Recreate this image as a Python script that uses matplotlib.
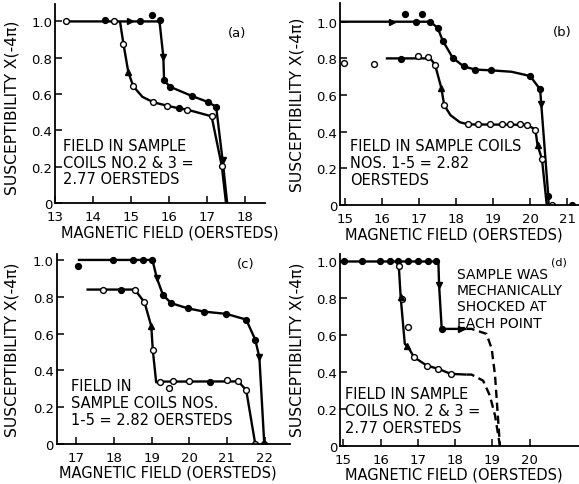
import matplotlib
matplotlib.use("Agg")
import matplotlib.pyplot as plt

# ---- panel (a) ----
a_upper_x = [13.3, 15.75, 15.85, 15.87, 16.03, 16.6, 17.03, 17.24, 17.41, 17.53]
a_upper_y = [1.0, 1.0, 0.805, 0.675, 0.64, 0.59, 0.556, 0.53, 0.235, 0.0]
a_lower_x = [14.71, 14.8, 14.93, 15.06, 15.3, 15.59, 15.94, 16.25, 16.47, 17.12, 17.39, 17.5]
a_lower_y = [1.0, 0.877, 0.72, 0.643, 0.585, 0.555, 0.537, 0.522, 0.515, 0.478, 0.202, 0.0]
a_fill_x = [14.32, 15.24, 15.54, 15.75, 15.87, 16.03, 16.6, 17.03, 17.24, 16.25]
a_fill_y = [1.01, 1.0, 1.033, 1.01, 0.675, 0.64, 0.59, 0.556, 0.53, 0.522]
a_open_x = [13.29, 14.54, 14.8, 15.06, 15.59, 15.94, 16.47, 17.12, 17.39]
a_open_y = [1.0, 1.0, 0.877, 0.643, 0.555, 0.537, 0.515, 0.478, 0.202]
a_right = ([14.97], [1.0])
a_down = ([15.85, 17.41], [0.805, 0.235])
a_up = ([14.93], [0.72])

# ---- panel (b) ----
b_upper_x = [14.86, 17.3, 17.5, 17.64, 17.91, 18.2, 18.51, 18.94, 19.5, 20.0, 20.27, 20.49, 20.5]
b_upper_y = [1.0, 1.0, 0.967, 0.896, 0.803, 0.757, 0.739, 0.735, 0.727, 0.704, 0.631, 0.05, 0.0]
b_lower_x = [16.1, 17.3, 17.43, 17.6, 17.68, 17.85, 18.1, 18.33, 19.91, 20.14, 20.2, 20.32, 20.45]
b_lower_y = [0.8, 0.8, 0.766, 0.639, 0.544, 0.49, 0.452, 0.44, 0.438, 0.412, 0.328, 0.25, 0.0]
b_fill_x = [16.62, 16.92, 17.07, 17.3, 17.5, 17.64, 17.91, 18.2, 18.51, 18.94, 20.0, 20.27, 20.49, 21.13, 16.5]
b_fill_y = [1.04, 1.0, 1.04, 1.0, 0.967, 0.896, 0.803, 0.757, 0.739, 0.735, 0.704, 0.631, 0.05, 0.0, 0.794]
b_open_x = [14.97, 15.77, 16.98, 17.25, 17.43, 17.68, 18.33, 18.6, 18.92, 19.24, 19.46, 19.73, 19.91, 20.14, 20.32, 20.59]
b_open_y = [0.775, 0.768, 0.814, 0.808, 0.766, 0.544, 0.44, 0.44, 0.44, 0.44, 0.44, 0.44, 0.438, 0.412, 0.25, 0.0]
b_right = ([16.26], [1.0])
b_down = ([20.29], [0.55])
b_up = ([17.6, 20.2], [0.639, 0.328])

# ---- panel (c) ----
c_upper_x = [17.04, 19.02, 19.14, 19.3, 19.52, 19.96, 20.4, 20.98, 21.51, 21.75, 21.86, 21.99]
c_upper_y = [1.0, 1.0, 0.9, 0.81, 0.765, 0.737, 0.719, 0.707, 0.676, 0.567, 0.471, 0.0]
c_lower_x = [17.27, 18.55, 18.81, 18.99, 19.03, 19.12, 19.23, 21.3, 21.51, 21.75]
c_lower_y = [0.839, 0.839, 0.77, 0.64, 0.511, 0.335, 0.339, 0.34, 0.293, 0.0]
c_fill_x = [17.04, 17.97, 18.5, 18.77, 19.02, 19.3, 19.52, 19.96, 20.4, 20.98, 21.51, 21.75, 21.99, 18.18, 20.54]
c_fill_y = [0.966, 1.0, 1.0, 1.0, 1.0, 0.81, 0.765, 0.737, 0.719, 0.707, 0.676, 0.567, 0.0, 0.839, 0.339]
c_open_x = [17.71, 18.55, 18.81, 19.03, 19.23, 19.45, 19.58, 20.0, 21.0, 21.3, 21.51, 21.75]
c_open_y = [0.839, 0.839, 0.77, 0.511, 0.339, 0.304, 0.34, 0.34, 0.345, 0.34, 0.293, 0.0]
c_right = ([], [])
c_down = ([19.14, 21.86], [0.9, 0.471])
c_up = ([18.99], [0.64])

# ---- panel (d) ----
d_upper_x = [14.91, 17.55, 17.57, 17.64, 18.3]
d_upper_y = [1.0, 1.0, 0.87, 0.634, 0.634]
d_upper_dash_x = [18.3, 18.44, 18.84, 18.98, 19.07, 19.2]
d_upper_dash_y = [0.634, 0.634, 0.607, 0.526, 0.38, 0.0]
d_lower_x = [16.45, 16.49, 16.54, 16.65, 16.74, 16.9, 17.24, 17.55, 17.88, 18.3]
d_lower_y = [1.0, 0.975, 0.806, 0.553, 0.535, 0.48, 0.435, 0.417, 0.39, 0.386]
d_lower_dash_x = [18.3, 18.44, 18.75, 18.93, 19.07, 19.2]
d_lower_dash_y = [0.386, 0.386, 0.353, 0.272, 0.163, 0.0]
d_fill_x = [15.02, 15.49, 15.98, 16.25, 16.47, 16.74, 17.01, 17.26, 17.5, 17.66]
d_fill_y = [1.0, 1.0, 1.0, 1.0, 1.0, 1.0, 1.0, 1.0, 1.0, 0.634]
d_open_x = [16.49, 16.57, 16.74, 16.9, 17.24, 17.55, 17.88]
d_open_y = [0.975, 0.797, 0.643, 0.48, 0.435, 0.417, 0.39]
d_right = ([18.15], [0.634])
d_down = ([17.57], [0.87])
d_up = ([16.54, 16.72], [0.806, 0.54])

y_ticks = [0, 0.2, 0.4, 0.6, 0.8, 1.0]
y_labels = ["0", "0.2", "0.4", "0.6", "0.8", "1.0"]

FS = 10.5
LW = 1.7


def draw_panel(ax, lines, dashes, fill, open_, right, down, up, xlim, ylim, xticks):
	for lx, ly in lines:
		ax.plot(lx, ly, color='black', lw=LW, solid_capstyle='butt')
	for lx, ly in dashes:
		ax.plot(lx, ly, color='black', lw=LW, ls=(0, (3.5, 2)))
	ax.plot(fill[0], fill[1], 'o', color='black', ms=4.2, ls='none')
	ax.plot(open_[0], open_[1], 'o', mfc='white', mec='black', mew=1.0, ms=4.2, ls='none')
	ax.plot(right[0], right[1], '>', color='black', ms=5, ls='none')
	ax.plot(down[0], down[1], 'v', color='black', ms=5, ls='none')
	ax.plot(up[0], up[1], '^', color='black', ms=5, ls='none')
	ax.set_xlim(*xlim)
	ax.set_ylim(*ylim)
	ax.set_xticks(xticks)
	ax.set_xticklabels([str(t) for t in xticks])
	ax.set_yticks(y_ticks)
	ax.set_yticklabels(y_labels)
	ax.spines['top'].set_visible(False)
	ax.spines['right'].set_visible(False)
	ax.spines['left'].set_linewidth(1.3)
	ax.spines['bottom'].set_linewidth(1.3)
	ax.tick_params(axis='both', direction='in', length=5, width=1.1, labelsize=9.5)
	ax.tick_params(axis='x', pad=5)
	ax.tick_params(axis='y', pad=2)
	ax.set_xlabel("MAGNETIC FIELD (OERSTEDS)", fontsize=FS, va='top')
	ax.set_ylabel("SUSCEPTIBILITY X(-4π)", fontsize=11.2)
	for lab in ax.get_xticklabels() + ax.get_yticklabels():
		lab.set_clip_on(False)


fig = plt.figure(figsize=(5.79, 4.85), dpi=100)
ax_a = fig.add_axes([0.095, 0.579, 0.363, 0.41])
ax_b = fig.add_axes([0.587, 0.575, 0.413, 0.416])
ax_c = fig.add_axes([0.098, 0.0825, 0.402, 0.392])
ax_d = fig.add_axes([0.587, 0.079, 0.413, 0.395])

draw_panel(ax_a, [(a_upper_x, a_upper_y), (a_lower_x, a_lower_y)], [],
	(a_fill_x, a_fill_y), (a_open_x, a_open_y), a_right, a_down, a_up,
	(13, 18.53), (0, 1.094), [13, 14, 15, 16, 17, 18])
draw_panel(ax_b, [(b_upper_x, b_upper_y), (b_lower_x, b_lower_y)], [],
	(b_fill_x, b_fill_y), (b_open_x, b_open_y), b_right, b_down, b_up,
	(14.86, 21.32), (0, 1.10), [15, 16, 17, 18, 19, 20, 21])
draw_panel(ax_c, [(c_upper_x, c_upper_y), (c_lower_x, c_lower_y)], [],
	(c_fill_x, c_fill_y), (c_open_x, c_open_y), c_right, c_down, c_up,
	(16.48, 22.66), (0, 1.033), [17, 18, 19, 20, 21, 22])
draw_panel(ax_d, [(d_upper_x, d_upper_y), (d_lower_x, d_lower_y)],
	[(d_upper_dash_x, d_upper_dash_y), (d_lower_dash_x, d_lower_dash_y)],
	(d_fill_x, d_fill_y), (d_open_x, d_open_y), d_right, d_down, d_up,
	(14.91, 21.32), (0, 1.04), [15, 16, 17, 18, 19, 20])

# label positions (axes coords)
ax_a.xaxis.set_label_coords(0.548, -0.106)
ax_b.xaxis.set_label_coords(0.475, -0.104)
ax_c.xaxis.set_label_coords(0.479, -0.108)
ax_d.xaxis.set_label_coords(0.475, -0.11)
ax_a.yaxis.set_label_coords(-0.17, 0.485)
ax_b.yaxis.set_label_coords(-0.15, 0.5)
ax_c.yaxis.set_label_coords(-0.16, 0.5)
ax_d.yaxis.set_label_coords(-0.15, 0.505)

# annotations
ax_a.text(13.22, 0.226, "FIELD IN SAMPLE\nCOILS NO.2 & 3 =\n2.77 OERSTEDS", fontsize=FS,
	ha='left', va='center', linespacing=1.15)
ax_a.text(17.78, 0.94, "(a)", fontsize=9.5, ha='center', va='center')

ax_b.text(15.14, 0.233, "FIELD IN SAMPLE COILS\nNOS. 1-5 = 2.82\nOERSTEDS", fontsize=FS,
	ha='left', va='center', linespacing=1.15)
ax_b.text(20.86, 0.945, "(b)", fontsize=9.5, ha='center', va='center')

ax_c.text(16.87, 0.227, "FIELD IN\nSAMPLE COILS NOS.\n1-5 = 2.82 OERSTEDS", fontsize=FS,
	ha='left', va='center', linespacing=1.15)
ax_c.text(21.51, 0.978, "(c)", fontsize=9.5, ha='center', va='center')

ax_d.text(15.05, 0.19, "FIELD IN SAMPLE\nCOILS NO. 2 & 3 =\n2.77 OERSTEDS", fontsize=FS,
	ha='left', va='center', linespacing=1.15)
ax_d.text(18.04, 0.80, "SAMPLE WAS\nMECHANICALLY\nSHOCKED AT\nEACH POINT", fontsize=10,
	ha='left', va='center', linespacing=1.2)
ax_d.text(20.78, 1.0, "(d)", fontsize=8, ha='center', va='center')

fig.savefig("out.png", dpi=100)
